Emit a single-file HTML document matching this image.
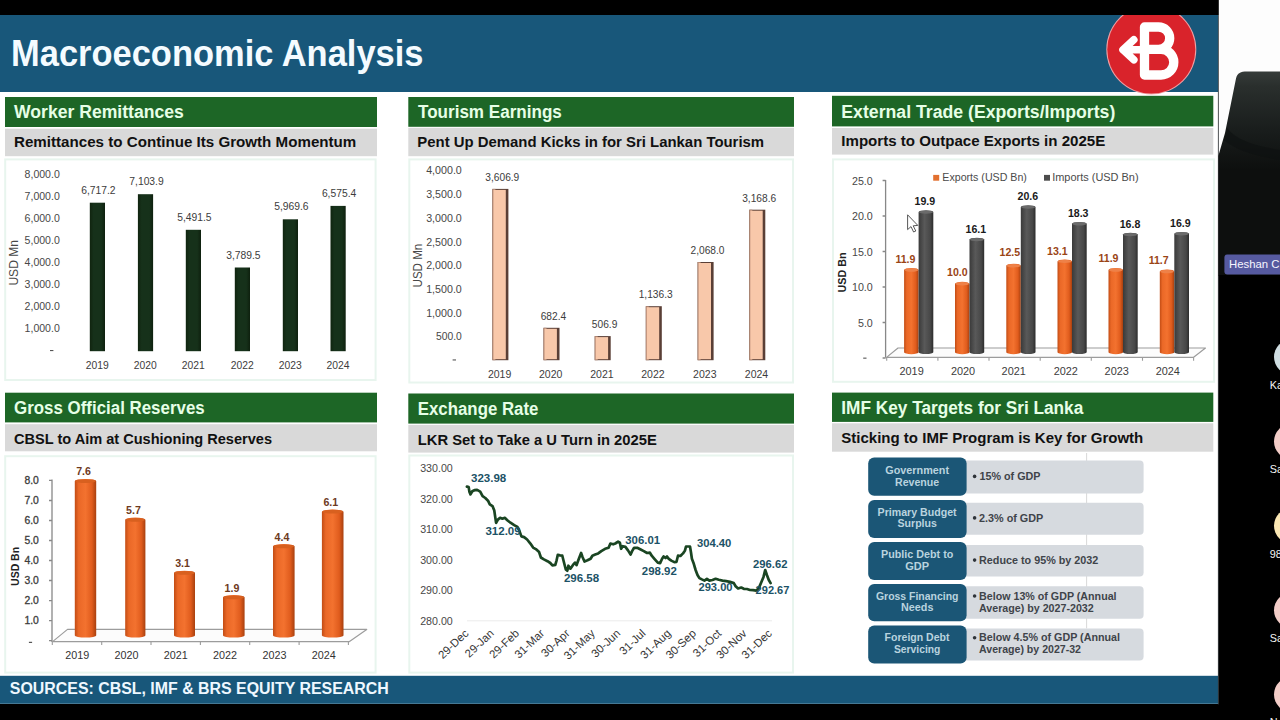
<!DOCTYPE html>
<html><head><meta charset="utf-8"><title>Macroeconomic Analysis</title>
<style>
html,body{margin:0;padding:0;background:#000;width:1280px;height:720px;overflow:hidden}
svg{display:block;font-family:'Liberation Sans', sans-serif;}
text{font-family:"Liberation Sans",sans-serif}
</style></head><body>
<svg width="1280" height="720" viewBox="0 0 1280 720">
<rect x="0" y="0" width="1280" height="720" fill="#000"/>
<rect x="0" y="15" width="1218.3" height="689" fill="#fff"/>
<rect x="0" y="15" width="1218.3" height="77" fill="#18577a"/>
<rect x="0" y="675.8" width="1218.3" height="28" fill="#18577a"/>
<text x="11" y="65.6" font-size="36" fill="#f4fbff" font-weight="bold" textLength="412.5" lengthAdjust="spacingAndGlyphs">Macroeconomic Analysis</text>
<text x="9.8" y="694.2" font-size="15.8" fill="#eef8ff" font-weight="bold" textLength="379" lengthAdjust="spacingAndGlyphs">SOURCES: CBSL, IMF &amp; BRS EQUITY RESEARCH</text>
<g>
<clipPath id="cl"><rect x="1100" y="15" width="118" height="80"/></clipPath>
<g clip-path="url(#cl)">
<circle cx="1151.3" cy="49.5" r="45" fill="#f0a0a4"/>
<circle cx="1151.3" cy="49.5" r="44" fill="#d9232b"/>
</g>
<g fill="none" stroke="#fff" stroke-linecap="round" stroke-linejoin="round">
<path stroke-width="9.3" d="M1144.5,27 V75 M1144.5,27 H1158.5 a11.2,11.2 0 0 1 0,22.4 H1144.5 M1144.5,49.4 H1161 a12.8,12.8 0 0 1 0,25.6 H1144.5"/>
<path stroke-width="7.6" d="M1123.4,49.8 H1144 M1133.8,39.8 L1123,49.8 L1133.8,59.8"/>
</g></g>
<rect x="5" y="97" width="372" height="30.0" fill="#1d6626"/>
<rect x="5" y="128.7" width="372" height="27.5" fill="#d9d9d9"/>
<text x="14" y="118.3" font-size="18" fill="#e6ffe6" font-weight="bold" textLength="169.8" lengthAdjust="spacingAndGlyphs">Worker Remittances</text>
<text x="14" y="147.3" font-size="15" fill="#111" font-weight="bold" textLength="342.3" lengthAdjust="spacingAndGlyphs">Remittances to Continue Its Growth Momentum</text>
<rect x="408.3" y="97" width="385.7" height="29.8" fill="#1d6626"/>
<rect x="408.3" y="127.8" width="385.7" height="28.4" fill="#d9d9d9"/>
<text x="418" y="118.3" font-size="18" fill="#e6ffe6" font-weight="bold" textLength="143.8" lengthAdjust="spacingAndGlyphs">Tourism Earnings</text>
<text x="417.3" y="147.3" font-size="15" fill="#111" font-weight="bold" textLength="346.8" lengthAdjust="spacingAndGlyphs">Pent Up Demand Kicks in for Sri Lankan Tourism</text>
<rect x="832" y="95.8" width="381.29999999999995" height="30.6" fill="#1d6626"/>
<rect x="832" y="128" width="381.29999999999995" height="26.6" fill="#d9d9d9"/>
<text x="841.3" y="117.8" font-size="18" fill="#e6ffe6" font-weight="bold" textLength="274" lengthAdjust="spacingAndGlyphs">External Trade (Exports/Imports)</text>
<text x="841.3" y="145.6" font-size="15" fill="#111" font-weight="bold" textLength="264" lengthAdjust="spacingAndGlyphs">Imports to Outpace Exports in 2025E</text>
<rect x="5" y="392.7" width="372" height="29.7" fill="#1d6626"/>
<rect x="5" y="424.2" width="372" height="27.1" fill="#d9d9d9"/>
<text x="14" y="414.4" font-size="18" fill="#e6ffe6" font-weight="bold" textLength="190.7" lengthAdjust="spacingAndGlyphs">Gross Official Reserves</text>
<text x="14" y="443.8" font-size="15" fill="#111" font-weight="bold" textLength="258" lengthAdjust="spacingAndGlyphs">CBSL to Aim at Cushioning Reserves</text>
<rect x="408.3" y="393.5" width="385.7" height="30.1" fill="#1d6626"/>
<rect x="408.3" y="424.9" width="385.7" height="27.7" fill="#d9d9d9"/>
<text x="417.8" y="414.6" font-size="18" fill="#e6ffe6" font-weight="bold" textLength="120.6" lengthAdjust="spacingAndGlyphs">Exchange Rate</text>
<text x="417.8" y="444.6" font-size="15" fill="#111" font-weight="bold" textLength="239" lengthAdjust="spacingAndGlyphs">LKR Set to Take a U Turn in 2025E</text>
<rect x="832" y="392.6" width="381.29999999999995" height="29.3" fill="#1d6626"/>
<rect x="832" y="423.3" width="381.29999999999995" height="28.4" fill="#d9d9d9"/>
<text x="841.3" y="413.6" font-size="18" fill="#e6ffe6" font-weight="bold" textLength="242" lengthAdjust="spacingAndGlyphs">IMF Key Targets for Sri Lanka</text>
<text x="841.3" y="442.6" font-size="15" fill="#111" font-weight="bold" textLength="302" lengthAdjust="spacingAndGlyphs">Sticking to IMF Program is Key for Growth</text>
<rect x="5.2" y="159.4" width="370.40000000000003" height="220.6" fill="#fff" stroke="#e8f5ee" stroke-width="2"/>
<rect x="409.3" y="159.4" width="383.7" height="223.1" fill="#fff" stroke="#e8f5ee" stroke-width="2"/>
<rect x="833" y="159.4" width="381" height="222.4" fill="#fff" stroke="#e8f5ee" stroke-width="2"/>
<rect x="5.2" y="456.2" width="370.40000000000003" height="216.40000000000003" fill="#fff" stroke="#e8f5ee" stroke-width="2"/>
<rect x="409.3" y="455.5" width="383.7" height="217.10000000000002" fill="#fff" stroke="#e8f5ee" stroke-width="2"/>
<rect x="50" y="350" width="3.4" height="1.1" fill="#555"/>
<text x="24.6" y="332.27" font-size="10.8" fill="#474747" textLength="35.2" lengthAdjust="spacingAndGlyphs">1,000.0</text>
<text x="24.6" y="310.23999999999995" font-size="10.8" fill="#474747" textLength="35.2" lengthAdjust="spacingAndGlyphs">2,000.0</text>
<text x="24.6" y="288.2099999999999" font-size="10.8" fill="#474747" textLength="35.2" lengthAdjust="spacingAndGlyphs">3,000.0</text>
<text x="24.6" y="266.17999999999995" font-size="10.8" fill="#474747" textLength="35.2" lengthAdjust="spacingAndGlyphs">4,000.0</text>
<text x="24.6" y="244.14999999999998" font-size="10.8" fill="#474747" textLength="35.2" lengthAdjust="spacingAndGlyphs">5,000.0</text>
<text x="24.6" y="222.11999999999998" font-size="10.8" fill="#474747" textLength="35.2" lengthAdjust="spacingAndGlyphs">6,000.0</text>
<text x="24.6" y="200.08999999999997" font-size="10.8" fill="#474747" textLength="35.2" lengthAdjust="spacingAndGlyphs">7,000.0</text>
<text x="24.6" y="178.05999999999997" font-size="10.8" fill="#474747" textLength="35.2" lengthAdjust="spacingAndGlyphs">8,000.0</text>
<text x="-22.8" y="0" font-size="12" fill="#474747" textLength="45.6" lengthAdjust="spacingAndGlyphs" transform="translate(17.5,262.8) rotate(-90)">USD Mn</text>
<defs><linearGradient id="gd" x1="0" x2="1" y1="0" y2="0"><stop offset="0" stop-color="#10240f"/><stop offset="0.25" stop-color="#16311a"/><stop offset="0.75" stop-color="#16311a"/><stop offset="1" stop-color="#0e200e"/></linearGradient></defs>
<rect x="89.8" y="202.7" width="15.2" height="148.5" fill="url(#gd)"/>
<text x="81.2" y="193.94987999999998" font-size="10.8" fill="#3c3c3c" textLength="34.4" lengthAdjust="spacingAndGlyphs">6,717.2</text>
<text x="85.7" y="368.7" font-size="10.8" fill="#3c3c3c" textLength="23" lengthAdjust="spacingAndGlyphs">2019</text>
<rect x="137.9" y="194.2" width="15.2" height="157.0" fill="url(#gd)"/>
<text x="129.3" y="185.40380999999996" font-size="10.8" fill="#3c3c3c" textLength="34.4" lengthAdjust="spacingAndGlyphs">7,103.9</text>
<text x="133.8" y="368.7" font-size="10.8" fill="#3c3c3c" textLength="23" lengthAdjust="spacingAndGlyphs">2020</text>
<rect x="185.8" y="229.8" width="15.2" height="121.4" fill="url(#gd)"/>
<text x="177.20000000000002" y="221.03784999999996" font-size="10.8" fill="#3c3c3c" textLength="34.4" lengthAdjust="spacingAndGlyphs">5,491.5</text>
<text x="181.70000000000002" y="368.7" font-size="10.8" fill="#3c3c3c" textLength="23" lengthAdjust="spacingAndGlyphs">2021</text>
<rect x="234.8" y="267.5" width="15.2" height="83.7" fill="url(#gd)"/>
<text x="226.20000000000002" y="258.65205" font-size="10.8" fill="#3c3c3c" textLength="34.4" lengthAdjust="spacingAndGlyphs">3,789.5</text>
<text x="230.70000000000002" y="368.7" font-size="10.8" fill="#3c3c3c" textLength="23" lengthAdjust="spacingAndGlyphs">2022</text>
<rect x="282.8" y="219.3" width="15.2" height="131.9" fill="url(#gd)"/>
<text x="274.2" y="210.47183999999996" font-size="10.8" fill="#3c3c3c" textLength="34.4" lengthAdjust="spacingAndGlyphs">5,969.6</text>
<text x="278.7" y="368.7" font-size="10.8" fill="#3c3c3c" textLength="23" lengthAdjust="spacingAndGlyphs">2023</text>
<rect x="330.5" y="205.9" width="15.2" height="145.3" fill="url(#gd)"/>
<text x="321.90000000000003" y="197.08365999999998" font-size="10.8" fill="#3c3c3c" textLength="34.4" lengthAdjust="spacingAndGlyphs">6,575.4</text>
<text x="326.40000000000003" y="368.7" font-size="10.8" fill="#3c3c3c" textLength="23" lengthAdjust="spacingAndGlyphs">2024</text>
<rect x="452.6" y="359.4" width="3.4" height="1.1" fill="#555"/>
<text x="461.8" y="340.38" font-size="10.6" fill="#474747" text-anchor="end" textLength="25.8" lengthAdjust="spacingAndGlyphs">500.0</text>
<text x="461.8" y="316.65999999999997" font-size="10.6" fill="#474747" text-anchor="end" textLength="35.6" lengthAdjust="spacingAndGlyphs">1,000.0</text>
<text x="461.8" y="292.93999999999994" font-size="10.6" fill="#474747" text-anchor="end" textLength="35.6" lengthAdjust="spacingAndGlyphs">1,500.0</text>
<text x="461.8" y="269.21999999999997" font-size="10.6" fill="#474747" text-anchor="end" textLength="35.6" lengthAdjust="spacingAndGlyphs">2,000.0</text>
<text x="461.8" y="245.5" font-size="10.6" fill="#474747" text-anchor="end" textLength="35.6" lengthAdjust="spacingAndGlyphs">2,500.0</text>
<text x="461.8" y="221.78" font-size="10.6" fill="#474747" text-anchor="end" textLength="35.6" lengthAdjust="spacingAndGlyphs">3,000.0</text>
<text x="461.8" y="198.06" font-size="10.6" fill="#474747" text-anchor="end" textLength="35.6" lengthAdjust="spacingAndGlyphs">3,500.0</text>
<text x="461.8" y="174.34" font-size="10.6" fill="#474747" text-anchor="end" textLength="35.6" lengthAdjust="spacingAndGlyphs">4,000.0</text>
<text x="-21.9" y="0" font-size="12" fill="#474747" textLength="43.8" lengthAdjust="spacingAndGlyphs" transform="translate(421.8,265.6) rotate(-90)">USD Mn</text>
<rect x="492.4" y="188.9" width="16" height="171.3" fill="#5a3f36"/>
<rect x="492.4" y="188.9" width="3" height="171.3" fill="#b78a75"/>
<rect x="493.4" y="189.9" width="12.4" height="169.3" fill="#f8c8aa"/>
<text x="485.29999999999995" y="180.87224999999998" font-size="10.8" fill="#3c3c3c" textLength="34" lengthAdjust="spacingAndGlyphs">3,606.9</text>
<text x="487.9" y="378.4" font-size="10.8" fill="#3c3c3c" textLength="23.4" lengthAdjust="spacingAndGlyphs">2019</text>
<rect x="543.5" y="327.8" width="16" height="32.4" fill="#5a3f36"/>
<rect x="543.5" y="327.8" width="3" height="32.4" fill="#b78a75"/>
<rect x="544.5" y="328.8" width="12.4" height="30.4" fill="#f8c8aa"/>
<text x="540.65" y="319.786" font-size="10.8" fill="#3c3c3c" textLength="25.5" lengthAdjust="spacingAndGlyphs">682.4</text>
<text x="539.0" y="378.4" font-size="10.8" fill="#3c3c3c" textLength="23.4" lengthAdjust="spacingAndGlyphs">2020</text>
<rect x="594.7" y="336.1" width="16" height="24.1" fill="#5a3f36"/>
<rect x="594.7" y="336.1" width="3" height="24.1" fill="#b78a75"/>
<rect x="595.7" y="337.1" width="12.4" height="22.1" fill="#f8c8aa"/>
<text x="591.85" y="328.12225" font-size="10.8" fill="#3c3c3c" textLength="25.5" lengthAdjust="spacingAndGlyphs">506.9</text>
<text x="590.2" y="378.4" font-size="10.8" fill="#3c3c3c" textLength="23.4" lengthAdjust="spacingAndGlyphs">2021</text>
<rect x="645.8" y="306.2" width="16" height="54.0" fill="#5a3f36"/>
<rect x="645.8" y="306.2" width="3" height="54.0" fill="#b78a75"/>
<rect x="646.8" y="307.2" width="12.4" height="52.0" fill="#f8c8aa"/>
<text x="638.65" y="298.22575" font-size="10.8" fill="#3c3c3c" textLength="34" lengthAdjust="spacingAndGlyphs">1,136.3</text>
<text x="641.25" y="378.4" font-size="10.8" fill="#3c3c3c" textLength="23.4" lengthAdjust="spacingAndGlyphs">2022</text>
<rect x="697.6" y="262.0" width="16" height="98.2" fill="#5a3f36"/>
<rect x="697.6" y="262.0" width="3" height="98.2" fill="#b78a75"/>
<rect x="698.6" y="263.0" width="12.4" height="96.2" fill="#f8c8aa"/>
<text x="690.5" y="253.96999999999997" font-size="10.8" fill="#3c3c3c" textLength="34" lengthAdjust="spacingAndGlyphs">2,068.0</text>
<text x="693.1" y="378.4" font-size="10.8" fill="#3c3c3c" textLength="23.4" lengthAdjust="spacingAndGlyphs">2023</text>
<rect x="749.3" y="209.7" width="16" height="150.5" fill="#5a3f36"/>
<rect x="749.3" y="209.7" width="3" height="150.5" fill="#b78a75"/>
<rect x="750.3" y="210.7" width="12.4" height="148.5" fill="#f8c8aa"/>
<text x="742.1999999999999" y="201.6915" font-size="10.8" fill="#3c3c3c" textLength="34" lengthAdjust="spacingAndGlyphs">3,168.6</text>
<text x="744.8" y="378.4" font-size="10.8" fill="#3c3c3c" textLength="23.4" lengthAdjust="spacingAndGlyphs">2024</text>
<defs>
<linearGradient id="go" x1="0" x2="1" y1="0" y2="0"><stop offset="0" stop-color="#c24c14"/><stop offset="0.18" stop-color="#ea6827"/><stop offset="0.5" stop-color="#f3722f"/><stop offset="0.8" stop-color="#e05c1d"/><stop offset="1" stop-color="#a8400f"/></linearGradient>
<linearGradient id="gg" x1="0" x2="1" y1="0" y2="0"><stop offset="0" stop-color="#3a3a3a"/><stop offset="0.4" stop-color="#595959"/><stop offset="0.8" stop-color="#474747"/><stop offset="1" stop-color="#2c2c2c"/></linearGradient>
</defs>
<rect x="863.2" y="357.6" width="3.3" height="1.1" fill="#555"/>
<text x="872.8" y="326.59999999999997" font-size="10.7" fill="#474747" text-anchor="end">5.0</text>
<text x="872.8" y="291.09999999999997" font-size="10.7" fill="#474747" text-anchor="end">10.0</text>
<text x="872.8" y="255.6" font-size="10.7" fill="#474747" text-anchor="end">15.0</text>
<text x="872.8" y="220.1" font-size="10.7" fill="#474747" text-anchor="end">20.0</text>
<text x="872.8" y="184.6" font-size="10.7" fill="#474747" text-anchor="end">25.0</text>
<text x="-20" y="0" font-size="11.2" fill="#222" font-weight="bold" textLength="40" lengthAdjust="spacingAndGlyphs" transform="translate(845.6,272.5) rotate(-90)">USD Bn</text>
<path d="M885.6,180 V357.6 M882.6,358.0 H885.6 M882.6,322.5 H885.6 M882.6,287.0 H885.6 M882.6,251.5 H885.6 M882.6,216.0 H885.6 M882.6,180.5 H885.6" stroke="#888" stroke-width="1.3" fill="none"/>
<path d="M886.5,357.4 L898,348 H1205.5 L1193.3,357.4 Z" fill="#fcfcfc" stroke="#9c9c9c" stroke-width="1.2" stroke-linejoin="round"/>
<path d=" M886.7,357.4 v3.4 M937.9,357.4 v3.4 M989.0,357.4 v3.4 M1040.2,357.4 v3.4 M1091.3,357.4 v3.4 M1142.5,357.4 v3.4 M1193.6,357.4 v3.4" stroke="#9c9c9c" stroke-width="1.1" fill="none"/>
<rect x="933.2" y="174.9" width="6" height="5.8" fill="#e2702f"/>
<text x="942.3" y="180.8" font-size="11.2" fill="#4a4a4a" textLength="84.6" lengthAdjust="spacingAndGlyphs">Exports (USD Bn)</text>
<rect x="1044" y="174.9" width="6" height="5.8" fill="#4d4d4d"/>
<text x="1052.2" y="180.8" font-size="11.2" fill="#4a4a4a" textLength="86.4" lengthAdjust="spacingAndGlyphs">Imports (USD Bn)</text>
<path d="M904.1,270.0 V352.2 A7.2,2.0 0 0 0 918.6,352.2 V270.0 A7.2,2.0 0 0 0 904.1,270.0 Z" fill="url(#go)"/>
<ellipse cx="911.4" cy="270.0" rx="6.8" ry="1.7" fill="#ee8148"/>
<path d="M918.6,212.1 V352.2 A7.4,2.0 0 0 0 933.3,352.2 V212.1 A7.4,2.0 0 0 0 918.6,212.1 Z" fill="url(#gg)"/>
<ellipse cx="926.0" cy="212.1" rx="7.0" ry="1.7" fill="#6b6b6b"/>
<text x="905.4" y="262.6" font-size="10.6" fill="#9a4416" font-weight="bold" text-anchor="middle">11.9</text>
<text x="924.8" y="205" font-size="10.6" fill="#1a1a1a" font-weight="bold" text-anchor="middle">19.9</text>
<text x="911.6" y="375.3" font-size="10.9" fill="#3c3c3c" text-anchor="middle">2019</text>
<path d="M955.0,283.8 V352.2 A7.2,2.0 0 0 0 969.5,352.2 V283.8 A7.2,2.0 0 0 0 955.0,283.8 Z" fill="url(#go)"/>
<ellipse cx="962.2" cy="283.8" rx="6.8" ry="1.7" fill="#ee8148"/>
<path d="M969.5,239.6 V352.2 A7.4,2.0 0 0 0 984.2,352.2 V239.6 A7.4,2.0 0 0 0 969.5,239.6 Z" fill="url(#gg)"/>
<ellipse cx="976.9" cy="239.6" rx="7.0" ry="1.7" fill="#6b6b6b"/>
<text x="957.3" y="275.5" font-size="10.6" fill="#9a4416" font-weight="bold" text-anchor="middle">10.0</text>
<text x="975.8" y="232.5" font-size="10.6" fill="#1a1a1a" font-weight="bold" text-anchor="middle">16.1</text>
<text x="963" y="375.3" font-size="10.9" fill="#3c3c3c" text-anchor="middle">2020</text>
<path d="M1006.3,265.7 V352.2 A7.2,2.0 0 0 0 1020.8,352.2 V265.7 A7.2,2.0 0 0 0 1006.3,265.7 Z" fill="url(#go)"/>
<ellipse cx="1013.5" cy="265.7" rx="6.8" ry="1.7" fill="#ee8148"/>
<path d="M1020.8,207.1 V352.2 A7.4,2.0 0 0 0 1035.5,352.2 V207.1 A7.4,2.0 0 0 0 1020.8,207.1 Z" fill="url(#gg)"/>
<ellipse cx="1028.2" cy="207.1" rx="7.0" ry="1.7" fill="#6b6b6b"/>
<text x="1009.8" y="255.8" font-size="10.6" fill="#9a4416" font-weight="bold" text-anchor="middle">12.5</text>
<text x="1027.8" y="200" font-size="10.6" fill="#1a1a1a" font-weight="bold" text-anchor="middle">20.6</text>
<text x="1013.7" y="375.3" font-size="10.9" fill="#3c3c3c" text-anchor="middle">2021</text>
<path d="M1057.5,261.4 V352.2 A7.2,2.0 0 0 0 1072.0,352.2 V261.4 A7.2,2.0 0 0 0 1057.5,261.4 Z" fill="url(#go)"/>
<ellipse cx="1064.8" cy="261.4" rx="6.8" ry="1.7" fill="#ee8148"/>
<path d="M1072.0,223.7 V352.2 A7.4,2.0 0 0 0 1086.7,352.2 V223.7 A7.4,2.0 0 0 0 1072.0,223.7 Z" fill="url(#gg)"/>
<ellipse cx="1079.3" cy="223.7" rx="7.0" ry="1.7" fill="#6b6b6b"/>
<text x="1057.4" y="254.8" font-size="10.6" fill="#9a4416" font-weight="bold" text-anchor="middle">13.1</text>
<text x="1078.2" y="217.2" font-size="10.6" fill="#1a1a1a" font-weight="bold" text-anchor="middle">18.3</text>
<text x="1065.8" y="375.3" font-size="10.9" fill="#3c3c3c" text-anchor="middle">2022</text>
<path d="M1108.5,270.0 V352.2 A7.2,2.0 0 0 0 1123.0,352.2 V270.0 A7.2,2.0 0 0 0 1108.5,270.0 Z" fill="url(#go)"/>
<ellipse cx="1115.8" cy="270.0" rx="6.8" ry="1.7" fill="#ee8148"/>
<path d="M1123.0,234.6 V352.2 A7.4,2.0 0 0 0 1137.7,352.2 V234.6 A7.4,2.0 0 0 0 1123.0,234.6 Z" fill="url(#gg)"/>
<ellipse cx="1130.3" cy="234.6" rx="7.0" ry="1.7" fill="#6b6b6b"/>
<text x="1108.5" y="262.2" font-size="10.6" fill="#9a4416" font-weight="bold" text-anchor="middle">11.9</text>
<text x="1130" y="227.8" font-size="10.6" fill="#1a1a1a" font-weight="bold" text-anchor="middle">16.8</text>
<text x="1116.7" y="375.3" font-size="10.9" fill="#3c3c3c" text-anchor="middle">2023</text>
<path d="M1159.8,271.5 V352.2 A7.2,2.0 0 0 0 1174.3,352.2 V271.5 A7.2,2.0 0 0 0 1159.8,271.5 Z" fill="url(#go)"/>
<ellipse cx="1167.0" cy="271.5" rx="6.8" ry="1.7" fill="#ee8148"/>
<path d="M1174.3,233.8 V352.2 A7.4,2.0 0 0 0 1189.0,352.2 V233.8 A7.4,2.0 0 0 0 1174.3,233.8 Z" fill="url(#gg)"/>
<ellipse cx="1181.7" cy="233.8" rx="7.0" ry="1.7" fill="#6b6b6b"/>
<text x="1158.7" y="264.2" font-size="10.6" fill="#9a4416" font-weight="bold" text-anchor="middle">11.7</text>
<text x="1180.4" y="226.8" font-size="10.6" fill="#1a1a1a" font-weight="bold" text-anchor="middle">16.9</text>
<text x="1167.8" y="375.3" font-size="10.9" fill="#3c3c3c" text-anchor="middle">2024</text>
<path d="M907.6,214.8 V229.6 L911,226.6 L913.6,232 L915.8,231 L913.2,225.8 L917.8,225.4 Z" fill="#fff" stroke="#444" stroke-width="0.9"/>
<rect x="28.9" y="641.8" width="3.2" height="1.1" fill="#444"/>
<text x="38.8" y="624.08" font-size="10" fill="#3c3c3c" text-anchor="end" textLength="14.4" lengthAdjust="spacingAndGlyphs" stroke="#3c3c3c" stroke-width="0.3">1.0</text>
<text x="38.8" y="604.0600000000001" font-size="10" fill="#3c3c3c" text-anchor="end" textLength="14.4" lengthAdjust="spacingAndGlyphs" stroke="#3c3c3c" stroke-width="0.3">2.0</text>
<text x="38.8" y="584.04" font-size="10" fill="#3c3c3c" text-anchor="end" textLength="14.4" lengthAdjust="spacingAndGlyphs" stroke="#3c3c3c" stroke-width="0.3">3.0</text>
<text x="38.8" y="564.02" font-size="10" fill="#3c3c3c" text-anchor="end" textLength="14.4" lengthAdjust="spacingAndGlyphs" stroke="#3c3c3c" stroke-width="0.3">4.0</text>
<text x="38.8" y="544.0" font-size="10" fill="#3c3c3c" text-anchor="end" textLength="14.4" lengthAdjust="spacingAndGlyphs" stroke="#3c3c3c" stroke-width="0.3">5.0</text>
<text x="38.8" y="523.98" font-size="10" fill="#3c3c3c" text-anchor="end" textLength="14.4" lengthAdjust="spacingAndGlyphs" stroke="#3c3c3c" stroke-width="0.3">6.0</text>
<text x="38.8" y="503.96000000000004" font-size="10" fill="#3c3c3c" text-anchor="end" textLength="14.4" lengthAdjust="spacingAndGlyphs" stroke="#3c3c3c" stroke-width="0.3">7.0</text>
<text x="38.8" y="483.94000000000005" font-size="10" fill="#3c3c3c" text-anchor="end" textLength="14.4" lengthAdjust="spacingAndGlyphs" stroke="#3c3c3c" stroke-width="0.3">8.0</text>
<text x="-19.5" y="0" font-size="11.2" fill="#222" font-weight="bold" textLength="39" lengthAdjust="spacingAndGlyphs" transform="translate(18.7,566.4) rotate(-90)">USD Bn</text>
<path d="M52,479.4 V642 M49,640.6 H52 M49,620.6 H52 M49,600.6 H52 M49,580.5 H52 M49,560.5 H52 M49,540.5 H52 M49,520.5 H52 M49,500.5 H52 M49,480.4 H52" stroke="#888" stroke-width="1.3" fill="none"/>
<path d="M52.6,641.6 L67.5,629.4 H366.7 L349.5,641.6 Z" fill="#fcfcfc" stroke="#9c9c9c" stroke-width="1.2" stroke-linejoin="round"/>
<path d=" M52.3,641.6 v3.4 M101.7,641.6 v3.4 M151.0,641.6 v3.4 M200.4,641.6 v3.4 M249.7,641.6 v3.4 M299.1,641.6 v3.4 M348.4,641.6 v3.4" stroke="#9c9c9c" stroke-width="1.1" fill="none"/>
<path d="M74.8,481.1 V635.4 A10.7,2.2 0 0 0 96.2,635.4 V481.1 A10.7,2.2 0 0 0 74.8,481.1 Z" fill="url(#go)"/>
<ellipse cx="85.5" cy="481.1" rx="10.3" ry="1.9" fill="#d8601f"/>
<text x="83.6" y="475.36" font-size="10" fill="#6e3a1e" font-weight="bold" text-anchor="middle" textLength="14.8" lengthAdjust="spacingAndGlyphs">7.6</text>
<text x="65.3" y="658.8" font-size="10.9" fill="#333" textLength="24" lengthAdjust="spacingAndGlyphs">2019</text>
<path d="M125.2,519.8 V635.4 A10.1,2.2 0 0 0 145.4,635.4 V519.8 A10.1,2.2 0 0 0 125.2,519.8 Z" fill="url(#go)"/>
<ellipse cx="135.3" cy="519.8" rx="9.7" ry="1.9" fill="#d8601f"/>
<text x="133.4" y="514.12" font-size="10" fill="#6e3a1e" font-weight="bold" text-anchor="middle" textLength="14.8" lengthAdjust="spacingAndGlyphs">5.7</text>
<text x="114.5" y="658.8" font-size="10.9" fill="#333" textLength="24" lengthAdjust="spacingAndGlyphs">2020</text>
<path d="M174.0,572.9 V635.4 A10.5,2.2 0 0 0 195.0,635.4 V572.9 A10.5,2.2 0 0 0 174.0,572.9 Z" fill="url(#go)"/>
<ellipse cx="184.5" cy="572.9" rx="10.1" ry="1.9" fill="#d8601f"/>
<text x="182.6" y="567.16" font-size="10" fill="#6e3a1e" font-weight="bold" text-anchor="middle" textLength="14.8" lengthAdjust="spacingAndGlyphs">3.1</text>
<text x="163.8" y="658.8" font-size="10.9" fill="#333" textLength="24" lengthAdjust="spacingAndGlyphs">2021</text>
<path d="M223.0,597.3 V635.4 A10.8,2.2 0 0 0 244.6,635.4 V597.3 A10.8,2.2 0 0 0 223.0,597.3 Z" fill="url(#go)"/>
<ellipse cx="233.8" cy="597.3" rx="10.4" ry="1.9" fill="#d8601f"/>
<text x="231.9" y="591.64" font-size="10" fill="#6e3a1e" font-weight="bold" text-anchor="middle" textLength="14.8" lengthAdjust="spacingAndGlyphs">1.9</text>
<text x="213.1" y="658.8" font-size="10.9" fill="#333" textLength="24" lengthAdjust="spacingAndGlyphs">2022</text>
<path d="M273.0,546.3 V635.4 A10.8,2.2 0 0 0 294.6,635.4 V546.3 A10.8,2.2 0 0 0 273.0,546.3 Z" fill="url(#go)"/>
<ellipse cx="283.8" cy="546.3" rx="10.4" ry="1.9" fill="#d8601f"/>
<text x="281.90000000000003" y="540.64" font-size="10" fill="#6e3a1e" font-weight="bold" text-anchor="middle" textLength="14.8" lengthAdjust="spacingAndGlyphs">4.4</text>
<text x="262.4" y="658.8" font-size="10.9" fill="#333" textLength="24" lengthAdjust="spacingAndGlyphs">2023</text>
<path d="M321.9,511.7 V635.4 A10.8,2.2 0 0 0 343.5,635.4 V511.7 A10.8,2.2 0 0 0 321.9,511.7 Z" fill="url(#go)"/>
<ellipse cx="332.7" cy="511.7" rx="10.4" ry="1.9" fill="#d8601f"/>
<text x="330.8" y="505.96" font-size="10" fill="#6e3a1e" font-weight="bold" text-anchor="middle" textLength="14.8" lengthAdjust="spacingAndGlyphs">6.1</text>
<text x="311.7" y="658.8" font-size="10.9" fill="#333" textLength="24" lengthAdjust="spacingAndGlyphs">2024</text>
<text x="452.8" y="624.6999999999999" font-size="10.8" fill="#474747" text-anchor="end" textLength="32.6" lengthAdjust="spacingAndGlyphs">280.00</text>
<text x="452.8" y="594.15" font-size="10.8" fill="#474747" text-anchor="end" textLength="32.6" lengthAdjust="spacingAndGlyphs">290.00</text>
<text x="452.8" y="563.5999999999999" font-size="10.8" fill="#474747" text-anchor="end" textLength="32.6" lengthAdjust="spacingAndGlyphs">300.00</text>
<text x="452.8" y="533.05" font-size="10.8" fill="#474747" text-anchor="end" textLength="32.6" lengthAdjust="spacingAndGlyphs">310.00</text>
<text x="452.8" y="502.49999999999994" font-size="10.8" fill="#474747" text-anchor="end" textLength="32.6" lengthAdjust="spacingAndGlyphs">320.00</text>
<text x="452.8" y="471.94999999999993" font-size="10.8" fill="#474747" text-anchor="end" textLength="32.6" lengthAdjust="spacingAndGlyphs">330.00</text>
<path d="M467,620.8 H772" stroke="#ececec" stroke-width="1"/>
<path d="M466.9,486.6 L468.7,487.1 L469.4,491.7 L470.5,494.4 L472.3,491.3 L474.4,490.2 L477.1,489.9 L480.2,491.7 L482.6,496.2 L485.3,498.0 L488.0,500.7 L489.8,504.3 L492.5,506.1 L494.3,510.6 L495.2,516.9 L496.1,522.9 L497.9,519.6 L500.1,517.8 L502.4,518.7 L504.8,517.8 L507.3,520.2 L510.5,522.7 L514.2,525.1 L517.4,526.9 L519.6,531.4 L521.4,536.4 L524.1,537.1 L527.1,539.5 L530.4,543.6 L533.1,547.6 L535.8,549.1 L539.1,552.1 L540.9,557.5 L543.9,559.4 L547.5,561.2 L550.3,563.0 L552.4,565.3 L555.3,564.8 L556.6,560.3 L557.8,554.8 L560.0,555.4 L562.3,555.7 L563.8,561.8 L565.8,569.5 L567.3,570.7 L568.4,565.7 L570.4,568.7 L573.0,564.9 L575.0,562.6 L576.5,565.2 L578.3,560.3 L581.1,553.0 L582.6,557.2 L584.5,561.5 L587.5,560.3 L590.6,558.8 L592.4,555.7 L595.2,554.5 L598.2,553.4 L601.3,551.1 L605.1,548.8 L608.6,547.8 L610.4,543.5 L613.2,544.3 L615.3,543.5 L618.1,541.7 L619.9,542.7 L621.1,548.8 L622.7,546.2 L625.4,546.9 L628.0,550.4 L630.6,554.5 L632.1,551.1 L634.1,547.8 L637.2,547.8 L640.2,549.3 L643.8,551.1 L647.1,553.0 L649.9,552.7 L651.7,555.7 L654.4,558.8 L657.8,562.6 L660.1,563.1 L662.1,558.8 L663.6,556.5 L665.5,558.0 L667.0,556.5 L668.8,558.8 L671.3,560.6 L674.3,562.1 L676.5,561.8 L678.0,555.7 L680.4,556.0 L683.0,553.4 L685.0,550.4 L686.0,546.5 L690.0,546.5 L691.0,552.5 L691.9,558.8 L693.8,563.8 L695.6,570.0 L697.5,575.0 L699.4,578.1 L701.9,579.4 L704.4,580.6 L706.9,578.8 L709.4,580.6 L712.5,580.0 L715.6,578.8 L718.8,579.8 L722.5,580.6 L726.2,581.2 L730.0,581.9 L733.8,583.1 L735.6,586.2 L738.1,588.5 L741.2,587.5 L743.8,588.8 L746.9,589.0 L750.0,590.0 L753.1,590.2 L756.2,590.6 L758.8,588.1 L761.2,582.5 L763.5,576.9 L765.2,570.0 L766.9,575.0 L768.8,580.0 L770.6,583.1" fill="none" stroke="#1a4522" stroke-width="2.7" stroke-linejoin="round" stroke-linecap="round"/>
<text x="471" y="481.8" font-size="11.6" fill="#1c5266" font-weight="bold" textLength="35.3" lengthAdjust="spacingAndGlyphs">323.98</text>
<text x="485.4" y="535.2" font-size="11.6" fill="#1c5266" font-weight="bold" textLength="35.3" lengthAdjust="spacingAndGlyphs">312.09</text>
<text x="563.9" y="581.7" font-size="11.6" fill="#1c5266" font-weight="bold" textLength="35.3" lengthAdjust="spacingAndGlyphs">296.58</text>
<text x="625.3" y="544.2" font-size="11.6" fill="#1c5266" font-weight="bold" textLength="34.8" lengthAdjust="spacingAndGlyphs">306.01</text>
<text x="641.8" y="574.6" font-size="11.6" fill="#1c5266" font-weight="bold" textLength="35" lengthAdjust="spacingAndGlyphs">298.92</text>
<text x="696.9" y="547.3" font-size="11.6" fill="#1c5266" font-weight="bold" textLength="34.4" lengthAdjust="spacingAndGlyphs">304.40</text>
<text x="698.5" y="591.3" font-size="11.6" fill="#1c5266" font-weight="bold" textLength="34" lengthAdjust="spacingAndGlyphs">293.00</text>
<text x="753.1" y="568.2" font-size="11.6" fill="#1c5266" font-weight="bold" textLength="34.4" lengthAdjust="spacingAndGlyphs">296.62</text>
<text x="755.6" y="594.2" font-size="11.6" fill="#1c5266" font-weight="bold" textLength="33.8" lengthAdjust="spacingAndGlyphs">292.67</text>
<text x="0" y="0" font-size="11.4" fill="#363636" text-anchor="end" transform="translate(469.3,634.2) rotate(-43.5)">29-Dec</text>
<text x="0" y="0" font-size="11.4" fill="#363636" text-anchor="end" transform="translate(494.6,634.2) rotate(-43.5)">29-Jan</text>
<text x="0" y="0" font-size="11.4" fill="#363636" text-anchor="end" transform="translate(519.9,634.2) rotate(-43.5)">29-Feb</text>
<text x="0" y="0" font-size="11.4" fill="#363636" text-anchor="end" transform="translate(545.1,634.2) rotate(-43.5)">31-Mar</text>
<text x="0" y="0" font-size="11.4" fill="#363636" text-anchor="end" transform="translate(570.4,634.2) rotate(-43.5)">30-Apr</text>
<text x="0" y="0" font-size="11.4" fill="#363636" text-anchor="end" transform="translate(595.7,634.2) rotate(-43.5)">31-May</text>
<text x="0" y="0" font-size="11.4" fill="#363636" text-anchor="end" transform="translate(621.0,634.2) rotate(-43.5)">30-Jun</text>
<text x="0" y="0" font-size="11.4" fill="#363636" text-anchor="end" transform="translate(646.3,634.2) rotate(-43.5)">31-Jul</text>
<text x="0" y="0" font-size="11.4" fill="#363636" text-anchor="end" transform="translate(671.5,634.2) rotate(-43.5)">31-Aug</text>
<text x="0" y="0" font-size="11.4" fill="#363636" text-anchor="end" transform="translate(696.8,634.2) rotate(-43.5)">30-Sep</text>
<text x="0" y="0" font-size="11.4" fill="#363636" text-anchor="end" transform="translate(722.1,634.2) rotate(-43.5)">31-Oct</text>
<text x="0" y="0" font-size="11.4" fill="#363636" text-anchor="end" transform="translate(747.4,634.2) rotate(-43.5)">30-Nov</text>
<text x="0" y="0" font-size="11.4" fill="#363636" text-anchor="end" transform="translate(772.7,634.2) rotate(-43.5)">31-Dec</text>
<path d="M1086.6,453 V628.4" stroke="#d4d4d4" stroke-width="0.9"/>
<rect x="960" y="460.5" width="183.6" height="32.9" rx="4" fill="#d6dadf"/>
<rect x="868.2" y="457.5" width="98.4" height="38.2" rx="6" fill="#1b5676"/>
<text x="885.3" y="473.9" font-size="10.4" fill="#b9d3df" font-weight="bold" textLength="63.7" lengthAdjust="spacingAndGlyphs">Government</text>
<text x="895" y="485.6" font-size="10.4" fill="#b9d3df" font-weight="bold" textLength="44.2" lengthAdjust="spacingAndGlyphs">Revenue</text>
<text x="979.5" y="480" font-size="10.2" fill="#3f444a" font-weight="bold" textLength="61.0" lengthAdjust="spacingAndGlyphs">15% of GDP</text>
<circle cx="974.6" cy="476.4" r="1.8" fill="#2e3338"/>
<rect x="960" y="502.7" width="183.6" height="32.1" rx="4" fill="#d6dadf"/>
<rect x="868.2" y="500" width="98.4" height="37.9" rx="6" fill="#1b5676"/>
<text x="877.6" y="515.6" font-size="10.4" fill="#b9d3df" font-weight="bold" textLength="79.0" lengthAdjust="spacingAndGlyphs">Primary Budget</text>
<text x="897.5" y="527.3" font-size="10.4" fill="#b9d3df" font-weight="bold" textLength="39.4" lengthAdjust="spacingAndGlyphs">Surplus</text>
<text x="979" y="521.5" font-size="10.2" fill="#3f444a" font-weight="bold" textLength="64.3" lengthAdjust="spacingAndGlyphs">2.3% of GDP</text>
<circle cx="974.6" cy="517.9" r="1.8" fill="#2e3338"/>
<rect x="960" y="545" width="183.6" height="31.6" rx="4" fill="#d6dadf"/>
<rect x="868.2" y="541.9" width="98.4" height="38.1" rx="6" fill="#1b5676"/>
<text x="881" y="557.8" font-size="10.4" fill="#b9d3df" font-weight="bold" textLength="72.3" lengthAdjust="spacingAndGlyphs">Public Debt to</text>
<text x="905.2" y="569.5" font-size="10.4" fill="#b9d3df" font-weight="bold" textLength="23.9" lengthAdjust="spacingAndGlyphs">GDP</text>
<text x="979" y="563.7" font-size="10.2" fill="#3f444a" font-weight="bold" textLength="119.3" lengthAdjust="spacingAndGlyphs">Reduce to 95% by 2032</text>
<circle cx="974.6" cy="560.1" r="1.8" fill="#2e3338"/>
<rect x="960" y="586.3" width="183.6" height="32.5" rx="4" fill="#d6dadf"/>
<rect x="868.2" y="583.9" width="98.4" height="37.3" rx="6" fill="#1b5676"/>
<text x="876" y="599.6" font-size="10.4" fill="#b9d3df" font-weight="bold" textLength="82.4" lengthAdjust="spacingAndGlyphs">Gross Financing</text>
<text x="901" y="611.3" font-size="10.4" fill="#b9d3df" font-weight="bold" textLength="32.4" lengthAdjust="spacingAndGlyphs">Needs</text>
<text x="979" y="599.6" font-size="10.2" fill="#3f444a" font-weight="bold" textLength="137.6" lengthAdjust="spacingAndGlyphs">Below 13% of GDP (Annual</text>
<text x="979" y="611.8" font-size="10.2" fill="#3f444a" font-weight="bold" textLength="114.7" lengthAdjust="spacingAndGlyphs">Average) by 2027-2032</text>
<circle cx="974.6" cy="596.0" r="1.8" fill="#2e3338"/>
<rect x="960" y="628.4" width="183.6" height="32.1" rx="4" fill="#d6dadf"/>
<rect x="868.2" y="625.4" width="98.4" height="38.2" rx="6" fill="#1b5676"/>
<text x="884.6" y="641.3" font-size="10.4" fill="#b9d3df" font-weight="bold" textLength="64.9" lengthAdjust="spacingAndGlyphs">Foreign Debt</text>
<text x="894" y="653" font-size="10.4" fill="#b9d3df" font-weight="bold" textLength="46.4" lengthAdjust="spacingAndGlyphs">Servicing</text>
<text x="979" y="641.3" font-size="10.2" fill="#3f444a" font-weight="bold" textLength="141" lengthAdjust="spacingAndGlyphs">Below 4.5% of GDP (Annual</text>
<text x="979" y="653" font-size="10.2" fill="#3f444a" font-weight="bold" textLength="102" lengthAdjust="spacingAndGlyphs">Average) by 2027-32</text>
<circle cx="974.6" cy="637.7" r="1.8" fill="#2e3338"/>
<defs>
<linearGradient id="ch" x1="0" x2="0" y1="71" y2="170" gradientUnits="userSpaceOnUse"><stop offset="0" stop-color="#363c3a"/><stop offset="0.15" stop-color="#2a2f2d"/><stop offset="0.6" stop-color="#191d1c"/><stop offset="1" stop-color="#0d0f0e"/></linearGradient>
</defs>
<rect x="1217.9" y="15.4" width="1" height="689" fill="#3a3f42"/>
<rect x="1218.8" y="0" width="61.2" height="276" fill="#fdfdfd"/>
<path d="M1280,71.5 H1247 C1240.5,71.5 1237.5,73 1236,78.5 L1225,133 L1219.2,153 L1218.3,156 V276 H1280 Z" fill="url(#ch)"/>
<path d="M1227,128 C1236,140 1255,146 1280,150 V160 C1255,156 1235,150 1224,140 Z" fill="#0e1110" opacity="0.6"/>
<rect x="1218.8" y="275" width="61.2" height="445" fill="#000"/>
<rect x="1224.4" y="254.6" width="60" height="19.8" rx="3" fill="#565aa0"/>
<text x="1229" y="267.8" font-size="11.3" fill="#f6f6ff" textLength="50.5" lengthAdjust="spacingAndGlyphs">Heshan C</text>
<circle cx="1291.7" cy="357" r="17.7" fill="#d0dee2"/>
<text x="1269.8" y="388.8" font-size="10.8" fill="#f4f4f4">Ka</text>
<circle cx="1291.7" cy="441.4" r="17.7" fill="#f3cdc8"/>
<text x="1269.8" y="473.2" font-size="10.8" fill="#f4f4f4">Sa</text>
<circle cx="1291.7" cy="525.8" r="17.7" fill="#fbe7b4"/>
<text x="1269.8" y="557.5999999999999" font-size="10.8" fill="#f4f4f4">98</text>
<circle cx="1291.7" cy="610.2" r="17.7" fill="#f3cdc8"/>
<text x="1269.8" y="642.0" font-size="10.8" fill="#f4f4f4">Sa</text>
<circle cx="1291.7" cy="694.6" r="17.7" fill="#f3cdc8"/>
<text x="1269.8" y="726.4" font-size="10.8" fill="#f4f4f4">N</text>
</svg>
</body></html>
